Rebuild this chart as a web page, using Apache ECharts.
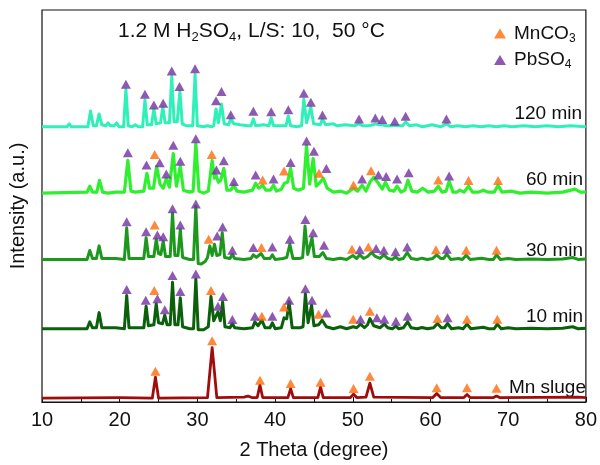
<!DOCTYPE html>
<html>
<head>
<meta charset="utf-8">
<script src="https://cdn.jsdelivr.net/npm/echarts/dist/echarts.min.js"></script>
<style>
    html, body { margin: 0; padding: 0; background: #fff; }
    #xrd { width: 600px; height: 465px; }
</style>
</head>
<body>
<div id="xrd"></div>
<script>
    // pattern traces, [2theta, stacked intensity (a.u.)]
    var p120 = [[10,278],[13.2,278],[13.5,281],[13.8,278],[15.9,278],[16.25,294],[16.6,279],[17.0,279],[17.35,291],[17.7,280],[18.2,279],[18.5,282],[18.8,279],[19.3,279],[19.6,282],[19.9,278],[20.5,278],[20.8,316],[21.1,279],[21.6,278],[22.0,280],[22.4,278],[22.95,278],[23.25,305],[23.55,280],[24.1,280],[24.4,296],[24.7,281],[25.25,282],[25.55,298],[25.85,282],[26.4,282],[26.7,329],[27.0,283],[27.4,283],[27.75,314],[28.05,281],[28.6,279],[29.4,279],[29.7,331],[30.0,279],[30.8,278],[31.3,279],[31.8,278],[32.1,279],[32.4,296],[32.7,282],[33.1,301],[33.45,281],[34.0,280],[34.3,286],[34.7,281],[35.5,280],[36.5,279],[36.9,279],[37.2,286],[37.5,279],[38.5,280],[39.2,279],[39.5,287],[39.8,279],[41.4,279],[41.7,289],[42.0,279],[42.8,278],[43.4,279],[43.7,306],[44.05,282],[44.3,283],[44.6,298],[44.95,281],[45.8,280],[46.1,286],[46.5,280],[47.5,281],[48.0,279],[49.0,280],[50.2,279],[50.8,281],[51.3,279],[52.0,279],[52.6,280],[52.9,281],[53.4,280],[53.8,280],[54.3,279],[55.0,279],[55.4,279.5],[55.8,279],[56.4,279],[56.8,283],[57.3,279],[58.2,280],[59.0,278],[60.2,280],[61.3,278],[62.05,281],[62.6,278],[63.5,279],[64.5,278],[65.5,279],[66.5,278],[67.5,279],[68.5,278],[69.5,279],[70.5,278],[72,279],[73.5,278],[75,279],[76.5,278],[78,279],[80,278]];
    var p60 = [[10,211],[15.8,212],[16.15,218],[16.5,212],[17.05,212],[17.4,224],[17.8,212],[18.5,211],[19.5,212],[20.6,212],[21.05,244],[21.45,213],[22.0,212],[23.1,213],[23.5,231],[23.85,216],[24.35,216],[24.75,238],[25.2,220],[25.6,216],[26.0,226],[26.4,217],[26.9,251],[27.3,218],[27.8,238],[28.2,214],[29.0,212],[29.45,213],[29.8,261],[30.2,213],[30.8,211],[31.4,213],[31.9,244],[32.2,226],[32.4,229],[32.7,222],[33.0,224],[33.4,236],[33.8,214],[34.3,214],[34.7,219],[35.1,213],[36,212],[37.1,214],[37.5,221],[37.9,216],[38.4,219],[38.8,214],[39.4,214],[39.8,219],[40.2,213],[40.8,215],[41.2,221],[41.6,222],[42.0,236],[42.4,216],[43.0,214],[43.65,216],[44.05,259],[44.45,220],[44.9,246],[45.3,218],[45.8,222],[46.2,226],[46.7,216],[47.5,212],[48.5,213],[49.2,211],[50.1,216],[50.6,213],[51.2,219],[51.7,213],[52.2,222],[52.7,227],[53.2,222],[53.8,215],[54.2,222],[54.7,214],[55.3,213],[55.7,218],[56.2,212],[56.7,214],[57.1,224],[57.6,213],[58.3,212],[59.0,216],[59.7,212],[60.5,213],[61.0,218],[61.5,212],[62.0,213],[62.4,223],[62.9,212],[63.4,212],[63.8,214],[64.3,212],[64.9,218],[65.4,212],[66.2,212],[66.8,214],[67.4,212],[68.2,212],[68.7,219],[69.2,212],[70.4,213],[71.5,211],[73,212],[75,211],[77,212],[78.6,215],[79.3,212],[80,212]];
    var p30 = [[10,144],[15.8,144],[16.15,153],[16.5,145],[17.0,145],[17.35,157.7],[17.7,145],[18.5,145],[19.5,145],[20.6,144],[20.9,176],[21.2,145],[22,145],[23.1,145],[23.4,166],[23.7,147],[24.4,147],[24.7,164.3],[25.0,150],[25.3,149],[25.6,162.7],[25.9,147],[26.5,147],[26.8,191],[27.1,148],[27.5,148],[27.8,174.3],[28.1,146],[29,144],[29.5,144],[29.8,197.7],[30.1,140],[30.5,139.3],[31.0,142],[31.3,146],[31.6,157.7],[31.9,148],[32.2,159.3],[32.5,148],[32.9,149],[33.2,171],[33.5,146],[34.2,145],[34.5,149.3],[34.8,145],[36,144],[36.9,145],[37.2,148.7],[37.6,146],[38.2,150],[38.6,145],[39.35,145],[39.65,148.7],[40,144],[41.0,145],[41.5,146],[41.9,159.3],[42.3,145],[43.2,145],[43.55,146],[43.85,177.7],[44.2,149],[44.45,149],[44.75,166],[45.05,147],[45.7,147],[46.15,151],[46.6,145],[47.5,144],[48.4,145.3],[49.2,144],[50.0,148],[50.5,145],[50.9,148.7],[51.4,145],[51.9,147],[52.4,151],[52.9,147],[53.5,145],[54.0,148.7],[54.5,145],[55.1,144],[55.5,146.7],[55.9,144],[56.5,145],[57.0,151],[57.5,145],[58.3,144],[58.9,145.3],[59.6,144],[60.3,145],[60.8,148.7],[61.3,145],[61.7,145],[62.1,149.3],[62.6,144],[63.6,145],[64.1,144],[64.6,148.3],[65.1,144],[66.6,145.3],[67.5,144],[68.1,144],[68.5,148.7],[69,144],[70,145],[71,144],[73,144.5],[75,144],[77,144.5],[78.3,146],[79,144],[80,144.5]];
    var p10 = [[10,74],[15.8,74],[16.15,81],[16.5,75],[17.0,75],[17.35,90.3],[17.7,75],[18.5,75],[19.5,75],[20.6,74],[20.9,107.7],[21.2,75],[22,75],[23.1,75],[23.4,96.7],[23.7,77],[24.4,78],[24.7,99.3],[25.0,80],[25.5,79],[25.8,87.7],[26.1,78],[26.5,78],[26.8,121],[27.1,78],[27.5,78],[27.8,105.3],[28.1,76],[29,74],[29.5,74],[29.8,124.3],[30.1,73],[30.8,73],[31.4,76],[31.75,106.7],[32.1,82],[32.35,80],[32.65,91],[32.95,82],[33.25,101],[33.55,76],[34.2,75],[34.5,79.3],[34.8,75],[36,74],[37.1,75],[37.4,81],[37.8,77],[38.3,82.7],[38.7,75],[39.35,75],[39.65,80],[40,74],[40.8,75],[41.15,85],[41.5,84],[41.8,101],[42.2,75],[43.2,75],[43.6,76],[43.9,109.3],[44.25,80],[44.45,80],[44.7,97.7],[45.0,77],[45.6,78],[46.05,82.7],[46.6,76],[47.5,74],[48.4,76],[49.2,74],[50.05,76],[50.5,75],[51.0,78.7],[51.5,75],[51.9,78],[52.2,84.3],[52.7,77],[53.5,75],[54.06,78.7],[54.5,75],[55.1,74],[55.55,76.7],[55.9,74],[56.5,75],[57.05,81],[57.5,75],[58.3,74],[58.9,75.3],[59.6,74],[60.4,75],[60.9,79.3],[61.4,75],[61.8,75],[62.2,79.3],[62.7,74],[63.6,75],[64.2,74],[64.7,78.7],[65.2,74],[66.8,75.5],[67.5,74],[68.2,74],[68.6,78.7],[69.1,74],[70,75],[71,74],[73,74.5],[75,74],[77,74.5],[78.3,76],[79,74],[80,74.5]];
    var pMn = [[10,4],[20,4.5],[24.2,4],[24.6,25],[25.0,4],[31.3,4.5],[31.6,30],[31.9,55],[32.2,30],[32.5,4.5],[36,5],[36.5,6],[37,4.5],[37.7,4.5],[38.05,17],[38.4,4.5],[41.65,4.5],[42.0,13.5],[42.35,4.5],[45.5,4.5],[45.85,15],[46.2,4.5],[49.7,4.5],[50.1,8],[50.5,4.5],[51.7,5],[52.2,19],[52.7,5],[60.3,4.5],[60.8,8.5],[61.3,4.5],[64.3,4.5],[64.7,7.5],[65.1,4.5],[68.1,4.5],[68.5,6],[68.9,4.5],[79,5],[80,4.5]];

    // phase markers
    var mk120_pb = [[20.8,321],[23.25,311],[24.4,300],[25.6,301.7],[26.7,334.3],[27.7,318.7],[29.7,336.7],[32.4,304.3],[33.1,313.7],[34.3,290.3],[37.2,293.7],[39.5,293.3],[41.7,295.3],[43.7,312],[44.6,302.7],[46.1,290],[50.8,286],[52.9,287],[53.8,285.3],[55.4,283.7],[56.8,288.7],[62.05,286]];
    var mk60_pb = [[21.05,251.7],[23.45,239.3],[25.15,241.7],[26.0,230.3],[26.9,259.3],[27.8,243.3],[29.8,266],[32.45,234.3],[33.4,243.7],[34.7,222.7],[37.5,229.3],[39.8,225.3],[42.0,242],[44.05,263.7],[45.0,253.3],[46.6,236],[51.2,225.3],[53.3,229.3],[54.3,227.7],[55.7,225.3],[57.2,231.7],[62.4,228.3]];
    var mk60_mn = [[24.5,250],[31.85,250],[38.4,224.3],[41.15,233.3],[45.65,231],[50.1,219.3],[52.35,233.7],[61.0,224.3],[64.9,223.7],[68.7,223.7]];
    var mk30_pb = [[20.9,182],[23.4,172],[24.85,168.7],[25.6,167],[26.8,195.3],[27.8,178.7],[29.8,200],[32.55,167.7],[33.25,176.7],[34.5,153.3],[37.2,156],[39.65,156.7],[41.9,164.3],[43.9,184.3],[44.9,171],[46.3,158.3],[50.9,153.7],[53.0,155],[54.0,153.3],[55.5,151.7],[57.0,156.7],[62.1,154.3]];
    var mk30_mn = [[24.5,178.7],[31.45,164.3],[38.25,156],[49.9,154.3],[52.0,156.7],[60.7,153.7],[64.6,153.3],[68.5,153.3]];
    var mk10_pb = [[20.9,113.7],[23.35,102.7],[24.85,104.3],[25.8,93.3],[26.8,127.7],[27.8,111.7],[29.8,129.3],[32.65,96.7],[33.3,106.7],[34.5,83.3],[37.4,86.7],[39.65,86.7],[41.8,102.7],[43.9,114.3],[44.75,102.7],[46.6,90],[51.0,83.7],[53.1,85],[54.06,83.7],[55.55,81.7],[57.05,86.7],[62.2,85]];
    var mk10_mn = [[24.45,112.7],[31.75,112.7],[38.3,86.7],[41.15,96],[45.6,88.7],[50.05,83.7],[52.2,91.7],[60.9,84.3],[64.7,83.7],[68.6,83.7]];
    var mkMn_mn = [[24.6,31],[31.9,62],[38.06,22],[42.0,18.7],[45.85,20],[50.1,13.7],[52.2,26],[60.8,14.3],[64.7,14.3],[68.5,14]];

    var xTicks = [10, 20, 30, 40, 50, 60, 70, 80];
    var sampleNames = ['120 min', '60 min', '30 min', '10 min', 'Mn sluge'];
    var phaseNames = ['MnCO3', 'PbSO4'];

    var font = 'Liberation Sans, Arial, sans-serif';
    var chartDom = document.getElementById('xrd');
    var myChart = echarts.init(chartDom);
    var option;

    function trace(name, data, color, width) {
        return {
            name: name,
            type: 'line',
            data: data,
            showSymbol: false,
            silent: true,
            z: 2,
            lineStyle: { color: color, width: width, join: 'round' }
        };
    }

    function sampleLabel(text, right, y) {
        return {
            type: 'text',
            right: right,
            top: y - 11,
            style: { text: text, font: '19px ' + font, fill: '#111' }
        };
    }

    option = {
        animation: false,
        backgroundColor: '#fff',
        grid: {
            left: 42, right: 11, top: 10, bottom: 59,
            show: true, borderColor: '#111', borderWidth: 1.2
        },
        legend: {
            orient: 'vertical',
            left: 489,
            top: 19,
            itemWidth: 12,
            itemHeight: 10,
            itemGap: 6,
            data: phaseNames.map(function (n) { return { name: n, icon: 'triangle' }; }),
            formatter: function (n) {
                return n === 'MnCO3' ? 'MnCO{s|3}' : 'PbSO{s|4}';
            },
            textStyle: {
                fontSize: 19,
                fontFamily: font,
                color: '#111',
                padding: [0, 0, 0, 3],
                rich: { s: { fontSize: 12, fontFamily: font, padding: [10, 0, 0, 0] } }
            }
        },
        xAxis: {
            type: 'value',
            min: 10,
            max: 80,
            interval: 10,
            name: '2 Theta (degree)',
            nameLocation: 'middle',
            nameGap: 38,
            nameTextStyle: { fontSize: 20, fontFamily: font, color: '#111' },
            axisLine: { lineStyle: { color: '#111', width: 1.2 } },
            axisTick: { inside: true, length: 5, lineStyle: { color: '#111' } },
            minorTick: { show: true, splitNumber: 2, length: 3, lineStyle: { color: '#111' } },
            axisLabel: {
                fontSize: 20, fontFamily: font, color: '#111', margin: 8,
                formatter: function (v) { return xTicks.indexOf(v) >= 0 ? String(v) : ''; }
            },
            splitLine: { show: false }
        },
        yAxis: {
            type: 'value',
            min: 0,
            max: 396,
            name: 'Intensity (a.u.)',
            nameLocation: 'middle',
            nameGap: 14,
            nameTextStyle: { fontSize: 20, fontFamily: font, color: '#111' },
            axisLine: { show: false },
            axisTick: { show: false },
            axisLabel: { show: false },
            splitLine: { show: false }
        },
        graphic: [
            {
                type: 'text',
                left: 118,
                top: 21,
                style: {
                    text: '1.2 M H{s|2}SO{s|4}, L/S: 10,  50 °C',
                    font: '21px ' + font,
                    fill: '#111',
                    rich: { s: { fontSize: 13, fontFamily: font, padding: [11, 0, 0, 0] } }
                }
            },
            sampleLabel(sampleNames[0], 18, 115),
            sampleLabel(sampleNames[1], 17, 181),
            sampleLabel(sampleNames[2], 17, 252),
            sampleLabel(sampleNames[3], 17, 318),
            sampleLabel(sampleNames[4], 14, 389)
        ],
        series: [
            trace(sampleNames[4], pMn, '#a00c0c', 2.8),
            trace(sampleNames[3], p10, '#0b610b', 3),
            trace(sampleNames[2], p30, '#1c991c', 3),
            trace(sampleNames[1], p60, '#2ef02e', 3.2),
            trace(sampleNames[0], p120, '#2ff0b8', 3),
            {
                name: 'MnCO3',
                type: 'scatter',
                symbol: 'triangle',
                symbolSize: [10, 9],
                z: 5,
                itemStyle: { color: '#ff6a0a' },
                data: mk60_mn.concat(mk30_mn, mk10_mn, mkMn_mn)
            },
            {
                name: 'PbSO4',
                type: 'scatter',
                symbol: 'triangle',
                symbolSize: [10, 9],
                z: 5,
                itemStyle: { color: '#7030a0' },
                data: mk120_pb.concat(mk60_pb, mk30_pb, mk10_pb)
            }
        ]
    };

    option && myChart.setOption(option);
</script>
</body>
</html>
